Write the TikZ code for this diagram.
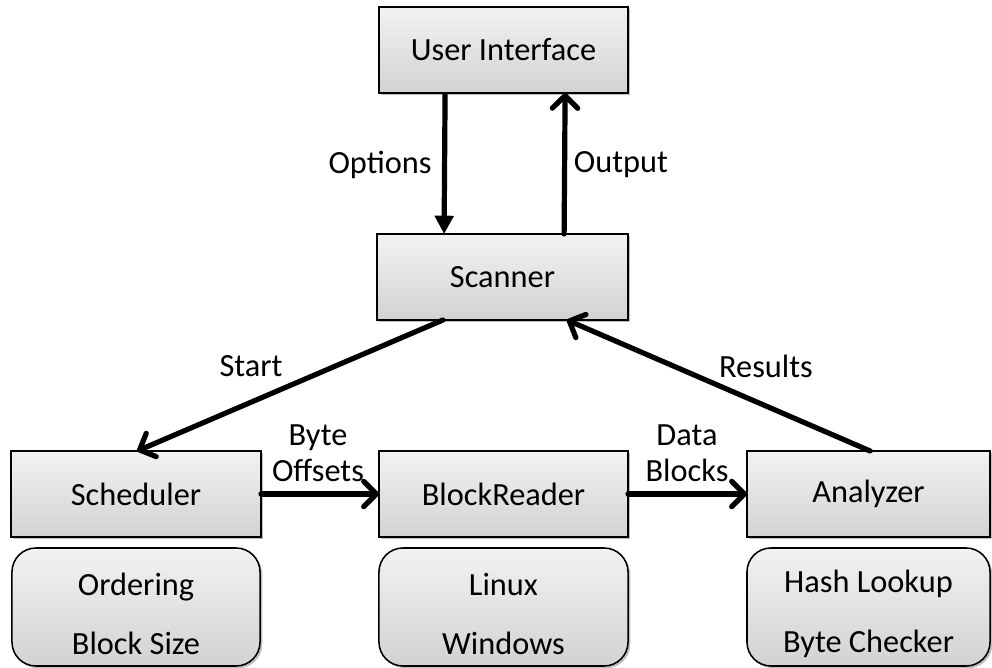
\documentclass[tikz,border=0pt]{standalone}
\usepackage{fontspec}
\setmainfont{Carlito}
\usetikzlibrary{arrows.meta, positioning, shadows}

\tikzset{
  box/.style={draw=black, line width=1.1pt, top color=gray!10, bottom color=gray!35,
    minimum height=2.15cm, outer sep=0pt, align=center,
    drop shadow={shadow xshift=1.6pt, shadow yshift=-1.6pt, fill=black, opacity=0.25}},
  roundbox/.style={box, rounded corners=0.6cm, minimum height=2.95cm},
  flow/.style={line width=3.7pt, line cap=round, -{Straight Barb[length=9pt,width=18pt,line cap=round,line join=round]}},
  tri/.style={line width=3.7pt, -{Triangle[length=13pt,width=13pt]}},
  lbl/.style={font=\fontsize{23}{28}\selectfont, inner sep=0pt}
}

\begin{document}
\begin{tikzpicture}[x=0.025cm, y=-0.025cm, font=\fontsize{23}{28}\selectfont]
  \useasboundingbox (0,0) rectangle (992,668);

  % main blocks
  \node[box, minimum width=6.225cm] (ui) at (503.5,50) {User Interface};
  \node[box, minimum width=6.275cm] (scan) at (502.5,277) {Scanner};
  \node[box, minimum width=6.25cm] (sched) at (136,494) {Scheduler};
  \node[box, minimum width=6.225cm] (reader) at (503.5,494) {BlockReader};
  \node[box, minimum width=6.075cm] (anal) at (868.5,494) {Analyzer};

  % option boxes
  \node[roundbox, minimum width=6.2cm] (schedopt) at (136,607) {\rule{0pt}{0.9cm}Ordering\\[0.5cm]Block Size};
  \node[roundbox, minimum width=6.225cm] (readeropt) at (503.5,607) {\rule{0pt}{0.9cm}Linux\\[0.5cm]Windows};
  \node[roundbox, minimum width=6.075cm] (analopt) at (868.5,607) {\rule{0pt}{0.9cm}Hash Lookup\\[0.5cm]Byte Checker};

  % connectors
  \draw[tri] ([xshift=-1.46cm]ui.south) -- ([xshift=-1.46cm]scan.north);
  \draw[flow] ([xshift=1.54cm]scan.north) -- ([xshift=1.54cm]ui.south);
  \draw[flow] ([xshift=-1.49cm]scan.south) -- ([xshift=0.03cm]sched.north);
  \draw[flow] ([xshift=0.04cm]anal.north) -- ([xshift=1.61cm]scan.south);
  \draw[flow] (sched.east) -- (reader.west);
  \draw[flow] (reader.east) -- (anal.west);

  % labels
  \node[lbl] (optlbl) at (380,165) {Options};
  \node[lbl] (outlbl) at (621,165) {Output};
  \node[lbl] (startlbl) at (251,366) {Start};
  \node[lbl] (reslbl) at (766,366) {Results};
  \node[lbl, align=center] (bytelbl) at (318,453) {Byte\\[-0.08cm]Offsets};
  \node[lbl, align=center] (datalbl) at (687,453) {Data\\[-0.08cm]Blocks};
\end{tikzpicture}
\end{document}
